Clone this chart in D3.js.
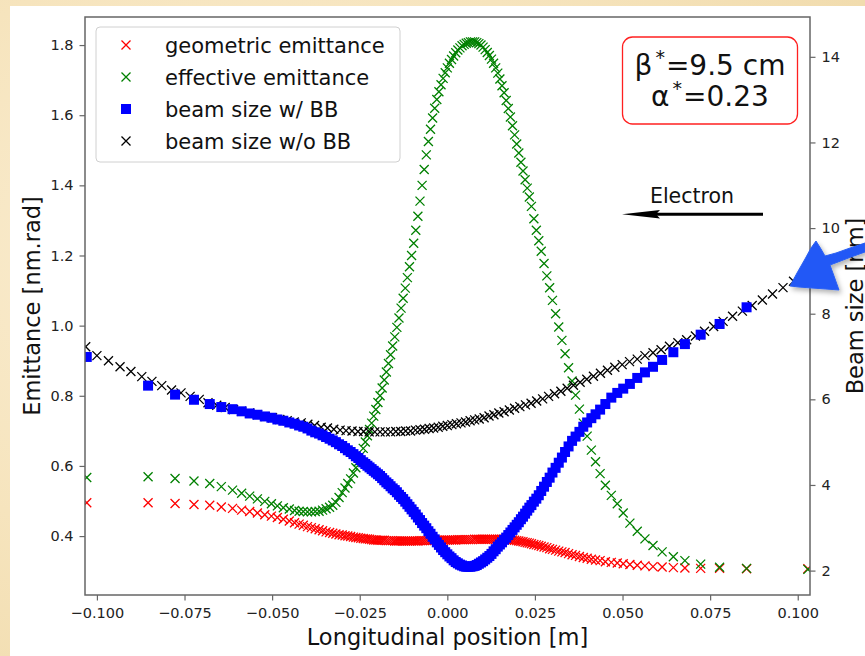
<!DOCTYPE html>
<html>
<head>
<meta charset="utf-8">
<script src="https://cdn.jsdelivr.net/npm/d3@7"></script>
<style>
  html, body { margin: 0; padding: 0; background: #f5e4bf; }
  svg { display: block; font-family: "DejaVu Sans", sans-serif; }
</style>
</head>
<body>
<div id="chart"></div>
<script>
// longitudinal positions [m] shared by the emittance curves and the beam size w/ BB
const positions = [-0.1029, -0.0854, -0.0777, -0.0723, -0.0678, -0.0645, -0.0613, -0.0587, -0.0564, -0.0542,
  -0.0521, -0.0502, -0.0485, -0.0468, -0.0451,
  -0.0436, -0.0423, -0.0411, -0.0399, -0.0388, -0.0377, -0.0366, -0.0356, -0.0346, -0.0336,
  -0.0327, -0.0318, -0.0309, -0.03, -0.0292, -0.0284, -0.0276, -0.0268, -0.0261, -0.0254, -0.0247,
  -0.024, -0.0234, -0.0228, -0.0222, -0.0216, -0.021, -0.0204, -0.0198, -0.0192, -0.0186,
  -0.018, -0.0174, -0.0168, -0.0162, -0.0156, -0.015, -0.0144, -0.0138, -0.0132, -0.0126,
  -0.012, -0.0114, -0.0108, -0.0102, -0.0096, -0.009, -0.0084, -0.0078, -0.0072, -0.0066,
  -0.006, -0.0054, -0.0048, -0.0042, -0.0036, -0.003, -0.0024, -0.0018, -0.0012, -0.0006,
  0,
  0.0006, 0.0012, 0.0018, 0.0024, 0.003, 0.0036, 0.0042, 0.0048, 0.0054, 0.006,
  0.0066, 0.0072, 0.0078, 0.0084, 0.009, 0.0096, 0.0102, 0.0108, 0.0114, 0.012,
  0.0126, 0.0132, 0.0138, 0.0144, 0.015, 0.0156, 0.0162, 0.0168, 0.0174, 0.018,
  0.0186, 0.0192, 0.0198, 0.0204, 0.021, 0.0216, 0.0222, 0.0228, 0.0234, 0.024,
  0.0247, 0.0254, 0.0261, 0.0268, 0.0276, 0.0284, 0.0292, 0.03, 0.0309, 0.0318,
  0.0327, 0.0336, 0.0346, 0.0356, 0.0366, 0.0377, 0.0388, 0.0399, 0.0411, 0.0423, 0.0436,
  0.0451, 0.0468, 0.0485, 0.0502, 0.0521, 0.0542, 0.0564, 0.0587, 0.0613, 0.0645,
  0.0678, 0.0723, 0.0777, 0.0854, 0.1029];

// geometric emittance [nm.rad]
const geometricEmit = [0.495, 0.495, 0.493, 0.490, 0.488, 0.483, 0.479, 0.474, 0.470, 0.466,
  0.461, 0.457, 0.453, 0.448, 0.443,
  0.438, 0.434, 0.431, 0.427, 0.424, 0.421, 0.418, 0.415, 0.412, 0.410,
  0.408, 0.406, 0.404, 0.403, 0.401, 0.400, 0.399, 0.397, 0.396, 0.395, 0.394,
  0.393, 0.392, 0.392, 0.391, 0.390, 0.389, 0.389, 0.388, 0.388, 0.388,
  0.388, 0.387, 0.387, 0.387, 0.387, 0.386, 0.386, 0.386, 0.386, 0.386,
  0.386, 0.386, 0.386, 0.386, 0.386, 0.386, 0.386, 0.387, 0.387, 0.387,
  0.387, 0.387, 0.387, 0.388, 0.388, 0.388, 0.388, 0.388, 0.388, 0.389,
  0.389,
  0.389, 0.389, 0.389, 0.389, 0.390, 0.390, 0.390, 0.390, 0.390, 0.390,
  0.390, 0.390, 0.391, 0.391, 0.391, 0.391, 0.391, 0.391, 0.391, 0.391,
  0.391, 0.391, 0.391, 0.391, 0.391, 0.391, 0.391, 0.390, 0.390, 0.389,
  0.389, 0.388, 0.387, 0.386, 0.385, 0.384, 0.382, 0.381, 0.380, 0.378,
  0.376, 0.375, 0.373, 0.371, 0.369, 0.367, 0.364, 0.362, 0.360, 0.357,
  0.355, 0.353, 0.350, 0.347, 0.345, 0.342, 0.339, 0.337, 0.334, 0.332, 0.330,
  0.327, 0.325, 0.323, 0.321, 0.319, 0.317, 0.315, 0.313, 0.312, 0.310,
  0.309, 0.308, 0.308, 0.307, 0.307];

// effective emittance [nm.rad]
const effectiveEmit = [0.567, 0.569, 0.564, 0.557, 0.550, 0.541, 0.531, 0.522, 0.514, 0.506,
  0.499, 0.492, 0.486, 0.481, 0.477,
  0.473, 0.471, 0.470, 0.469, 0.469, 0.470, 0.471, 0.474, 0.478, 0.482,
  0.488, 0.496, 0.510, 0.524, 0.537, 0.550, 0.563, 0.580, 0.595, 0.612, 0.630,
  0.650, 0.668, 0.686, 0.704, 0.722, 0.742, 0.761, 0.781, 0.800, 0.822,
  0.845, 0.868, 0.892, 0.917, 0.942, 0.968, 0.995, 1.022, 1.050, 1.078,
  1.107, 1.137, 1.168, 1.200, 1.235, 1.272, 1.312, 1.355, 1.400, 1.445,
  1.487, 1.525, 1.560, 1.592, 1.620, 1.645, 1.667, 1.687, 1.705, 1.721,
  1.735,
  1.748, 1.759, 1.769, 1.778, 1.786, 1.792, 1.798, 1.802, 1.805, 1.807,
  1.809, 1.809, 1.809, 1.807, 1.804, 1.800, 1.794, 1.787, 1.779, 1.770,
  1.760, 1.748, 1.735, 1.720, 1.703, 1.684, 1.664, 1.642, 1.619, 1.595,
  1.570, 1.544, 1.518, 1.492, 1.466, 1.441, 1.416, 1.392, 1.367, 1.340,
  1.305, 1.272, 1.242, 1.212, 1.177, 1.142, 1.108, 1.072, 1.034, 0.996,
  0.958, 0.920, 0.880, 0.842, 0.802, 0.762, 0.722, 0.685, 0.645, 0.612, 0.578,
  0.545, 0.516, 0.492, 0.466, 0.437, 0.414, 0.392, 0.373, 0.355, 0.341,
  0.330, 0.320, 0.311, 0.308, 0.305];

// beam size with beam-beam [nm]
const sizeWithBB = [6.99, 6.32, 6.11, 5.99, 5.89, 5.82, 5.77, 5.72, 5.67, 5.64,
  5.60, 5.57, 5.53, 5.50, 5.46,
  5.43, 5.39, 5.36, 5.32, 5.27, 5.23, 5.20, 5.16, 5.12, 5.08,
  5.04, 5.00, 4.95, 4.91, 4.86, 4.81, 4.77, 4.72, 4.67, 4.63, 4.58,
  4.53, 4.49, 4.45, 4.41, 4.37, 4.33, 4.29, 4.25, 4.21, 4.16,
  4.11, 4.06, 4.02, 3.97, 3.92, 3.88, 3.83, 3.77, 3.72, 3.67,
  3.61, 3.55, 3.49, 3.43, 3.37, 3.31, 3.24, 3.18, 3.11, 3.05,
  2.99, 2.92, 2.86, 2.79, 2.73, 2.66, 2.60, 2.54, 2.48, 2.43,
  2.38,
  2.33, 2.29, 2.24, 2.20, 2.17, 2.14, 2.12, 2.10, 2.09, 2.09,
  2.09, 2.10, 2.11, 2.13, 2.16, 2.19, 2.22, 2.26, 2.30, 2.34,
  2.39, 2.45, 2.50, 2.56, 2.61, 2.66, 2.72, 2.77, 2.83, 2.89,
  2.95, 3.01, 3.07, 3.13, 3.20, 3.26, 3.33, 3.40, 3.47, 3.53,
  3.61, 3.68, 3.76, 3.86, 3.96, 4.07, 4.17, 4.29, 4.40, 4.52,
  4.64, 4.77, 4.90, 5.03, 5.13, 5.24, 5.36, 5.46, 5.56, 5.65, 5.76,
  5.89, 6.04, 6.15, 6.25, 6.36, 6.50, 6.63, 6.76, 6.92, 7.10,
  7.29, 7.51, 7.76, 8.15, 8.98];

// beam size without beam-beam, on its own grid
const positionsNoBB = [-0.1032, -0.1, -0.0967, -0.0934, -0.0903, -0.0872, -0.0843, -0.0815, -0.0787, -0.076,
  -0.0734, -0.0708, -0.0683, -0.0658, -0.0634, -0.061, -0.0587, -0.0564, -0.0542, -0.052,
  -0.0499, -0.0478, -0.0457, -0.0437, -0.0417, -0.0398, -0.0379, -0.036, -0.0342, -0.0324,
  -0.0306, -0.0289, -0.0272, -0.0255, -0.0239, -0.0223, -0.0207, -0.0192, -0.0177, -0.0162,
  -0.0147, -0.0133, -0.0119, -0.0105, -0.0091, -0.0078, -0.0065, -0.0052, -0.0039, -0.0026,
  -0.0013, 0, 0.0013, 0.0026, 0.0039, 0.0052, 0.0065, 0.0078, 0.0091, 0.0105,
  0.0119, 0.0133, 0.0147, 0.0162, 0.0177, 0.0192, 0.0207, 0.0223, 0.0239, 0.0255,
  0.0272, 0.0289, 0.0306, 0.0324, 0.0342, 0.036, 0.0379, 0.0398, 0.0417, 0.0437,
  0.0457, 0.0478, 0.0499, 0.052, 0.0542, 0.0564, 0.0587, 0.061, 0.0634, 0.0658,
  0.0683, 0.0708, 0.0734, 0.076, 0.0787, 0.0814, 0.0842, 0.087, 0.0899, 0.0928,
  0.0958, 0.0988, 0.1018];
const sizeNoBB = [7.23, 7.02, 6.90, 6.76, 6.65, 6.53, 6.42, 6.32, 6.22, 6.15,
  6.07, 6.00, 5.92, 5.86, 5.81, 5.76, 5.72, 5.68, 5.64, 5.60,
  5.57, 5.53, 5.50, 5.47, 5.45, 5.42, 5.39, 5.35, 5.33, 5.30,
  5.28, 5.27, 5.26, 5.25, 5.25, 5.24, 5.24, 5.24, 5.24, 5.24,
  5.25, 5.25, 5.26, 5.26, 5.28, 5.29, 5.30, 5.32, 5.33, 5.35,
  5.37, 5.39, 5.41, 5.43, 5.45, 5.47, 5.50, 5.52, 5.54, 5.57,
  5.61, 5.64, 5.68, 5.71, 5.75, 5.79, 5.83, 5.87, 5.91, 5.96,
  6.01, 6.07, 6.13, 6.19, 6.26, 6.33, 6.40, 6.47, 6.54, 6.61,
  6.68, 6.75, 6.81, 6.88, 6.94, 7.02, 7.09, 7.16, 7.24, 7.32,
  7.39, 7.48, 7.59, 7.70, 7.82, 7.94, 8.06, 8.19, 8.32, 8.46,
  8.61, 8.76, 8.90];

const xTicks = [-0.1, -0.075, -0.05, -0.025, 0, 0.025, 0.05, 0.075, 0.1];
const emitTicks = [0.4, 0.6, 0.8, 1.0, 1.2, 1.4, 1.6, 1.8];
const sizeTicks = [2, 4, 6, 8, 10, 12, 14];
const legendLabels = ['geometric emittance', 'effective emittance', 'beam size w/ BB', 'beam size w/o BB'];

const W = 865, H = 656;
const plot = { left: 85, right: 810, top: 17, bottom: 595 };

const svg = d3.select('#chart').append('svg').attr('width', W).attr('height', H);
const defs = svg.append('defs');

// parchment backdrop
const pg = defs.append('radialGradient').attr('id', 'parch').attr('cx', '30%').attr('cy', '40%').attr('r', '80%');
pg.append('stop').attr('offset', '0%').attr('stop-color', '#fbefd6');
pg.append('stop').attr('offset', '60%').attr('stop-color', '#f6e4bd');
pg.append('stop').attr('offset', '100%').attr('stop-color', '#f1dcae');
svg.append('rect').attr('width', W).attr('height', H).attr('fill', 'url(#parch)');
svg.append('rect').attr('x', 10).attr('y', 6).attr('width', W - 10).attr('height', H - 6).attr('fill', '#fff');

defs.append('clipPath').attr('id', 'plotclip').append('rect')
  .attr('x', plot.left).attr('y', plot.top)
  .attr('width', plot.right - plot.left).attr('height', plot.bottom - plot.top);

const shadow = defs.append('filter').attr('id', 'shadow').attr('x', '-30%').attr('y', '-30%').attr('width', '160%').attr('height', '160%');
shadow.append('feDropShadow').attr('dx', 2).attr('dy', 3).attr('stdDeviation', 2.5).attr('flood-color', '#000').attr('flood-opacity', 0.3);

const x = d3.scaleLinear().domain([-0.1034, 0.1035]).range([plot.left, plot.right]);
const yEmit = d3.scaleLinear().domain([0.232, 1.88]).range([plot.bottom, plot.top]);
const ySize = d3.scaleLinear().domain([1.43, 14.93]).range([plot.bottom, plot.top]);

const crossPath = 'M-4.5,-4.5L4.5,4.5M-4.5,4.5L4.5,-4.5';

const marks = svg.append('g').attr('clip-path', 'url(#plotclip)');

function crosses(xs, ys, yScale, color) {
  const pts = d3.zip(xs, ys);
  marks.append('g').selectAll('path').data(pts).enter().append('path')
    .attr('d', crossPath)
    .attr('transform', d => `translate(${x(d[0])},${yScale(d[1])})`)
    .attr('fill', 'none').attr('stroke', color).attr('stroke-width', 1.3);
}

crosses(positions, geometricEmit, yEmit, '#ff0000');
crosses(positions, effectiveEmit, yEmit, '#008000');
crosses(positionsNoBB, sizeNoBB, ySize, '#000000');

marks.append('g').selectAll('rect').data(d3.zip(positions, sizeWithBB)).enter().append('rect')
  .attr('x', d => x(d[0]) - 5).attr('y', d => ySize(d[1]) - 5)
  .attr('width', 10).attr('height', 10).attr('fill', '#0000ff');

// axes
const axisColor = '#666';
function styleAxis(g) {
  g.select('.domain').remove();
  g.selectAll('.tick line').attr('stroke', axisColor).attr('stroke-width', 1.2);
  g.selectAll('.tick text').attr('fill', '#222').style('font-size', '14.5px').style('font-family', '"DejaVu Sans", sans-serif');
}

svg.append('g').attr('transform', `translate(0,${plot.bottom})`)
  .call(d3.axisBottom(x).tickValues(xTicks).tickFormat(d3.format('.3f')).tickSize(5.5).tickPadding(7))
  .call(styleAxis);

svg.append('g').attr('transform', `translate(${plot.left},0)`)
  .call(d3.axisLeft(yEmit).tickValues(emitTicks).tickFormat(d3.format('.1f')).tickSize(5.5).tickPadding(6))
  .call(styleAxis);

svg.append('g').attr('transform', `translate(${plot.right},0)`)
  .call(d3.axisRight(ySize).tickValues(sizeTicks).tickFormat(d3.format('d')).tickSize(5.5).tickPadding(6))
  .call(styleAxis);

svg.append('rect').attr('x', plot.left).attr('y', plot.top)
  .attr('width', plot.right - plot.left).attr('height', plot.bottom - plot.top)
  .attr('fill', 'none').attr('stroke', axisColor).attr('stroke-width', 1.5);

// axis labels
svg.append('text').attr('x', (plot.left + plot.right) / 2).attr('y', 645)
  .attr('text-anchor', 'middle').style('font-size', '22.5px').attr('fill', '#111')
  .text('Longitudinal position [m]');
svg.append('text').attr('transform', `translate(40,${(plot.top + plot.bottom) / 2}) rotate(-90)`)
  .attr('text-anchor', 'middle').style('font-size', '22.5px').attr('fill', '#111')
  .text('Emittance [nm.rad]');
svg.append('text').attr('transform', `translate(863,${(plot.top + plot.bottom) / 2}) rotate(-90)`)
  .attr('text-anchor', 'middle').style('font-size', '22.5px').attr('fill', '#111')
  .text('Beam size [nm]');

// legend
const lg = svg.append('g');
lg.append('rect').attr('x', 96).attr('y', 27).attr('width', 304).attr('height', 135).attr('rx', 4)
  .attr('fill', '#fff').attr('fill-opacity', 0.8).attr('stroke', '#d0d0d0').attr('stroke-width', 1);
const legendColors = ['#ff0000', '#008000', '#0000ff', '#000000'];
legendLabels.forEach((lab, i) => {
  const cy = 45 + i * 32;
  if (i === 2) {
    lg.append('rect').attr('x', 121).attr('y', cy - 5).attr('width', 10).attr('height', 10).attr('fill', legendColors[i]);
  } else {
    lg.append('path').attr('d', crossPath).attr('transform', `translate(126,${cy})`)
      .attr('fill', 'none').attr('stroke', legendColors[i]).attr('stroke-width', 1.3);
  }
  lg.append('text').attr('x', 165).attr('y', cy + 8).style('font-size', '21px').attr('fill', '#111').text(lab);
});

// beta* / alpha* box
svg.append('rect').attr('x', 622.5).attr('y', 37).attr('width', 175).attr('height', 87).attr('rx', 10)
  .attr('fill', '#fff').attr('stroke', '#ff2020').attr('stroke-width', 1.3);
const b1 = svg.append('text').attr('x', 710).attr('y', 75).attr('text-anchor', 'middle').style('font-size', '28px').attr('fill', '#111');
b1.append('tspan').text('β');
b1.append('tspan').attr('dy', -11).attr('dx', 3).style('font-size', '19px').text('*');
b1.append('tspan').attr('dy', 11).attr('dx', 1).text('=9.5 cm');
const b2 = svg.append('text').attr('x', 710).attr('y', 106).attr('text-anchor', 'middle').style('font-size', '28px').attr('fill', '#111');
b2.append('tspan').text('α');
b2.append('tspan').attr('dy', -11).attr('dx', 3).style('font-size', '19px').text('*');
b2.append('tspan').attr('dy', 11).attr('dx', 1).text('=0.23');

// electron direction arrow
svg.append('text').attr('x', 692).attr('y', 203).attr('text-anchor', 'middle').style('font-size', '20.5px').attr('fill', '#111').text('Electron');
svg.append('line').attr('x1', 763).attr('y1', 214.3).attr('x2', 650).attr('y2', 214.3).attr('stroke', '#000').attr('stroke-width', 3);
svg.append('path').attr('d', 'M622,214.3L660,210L656,214.3L660,218.6Z').attr('fill', '#000');

// blue scribble over the right edge: a rough triangle with a tail to the edge
svg.append('path')
  .attr('d', 'M790,286 L797,273 L805,259 L811,248 L816,241 L821,249 L825,256 L836,253 L850,248 L865,243 L865,252 L851,257 L838,262 L830,265 L834,276 L839,290 L826,289 L812,288 L799,287 Z')
  .attr('fill', '#2258f6').attr('stroke', '#2a60f2').attr('stroke-width', 1).attr('stroke-linejoin', 'round')
  .attr('filter', 'url(#shadow)');
</script>
</body>
</html>
